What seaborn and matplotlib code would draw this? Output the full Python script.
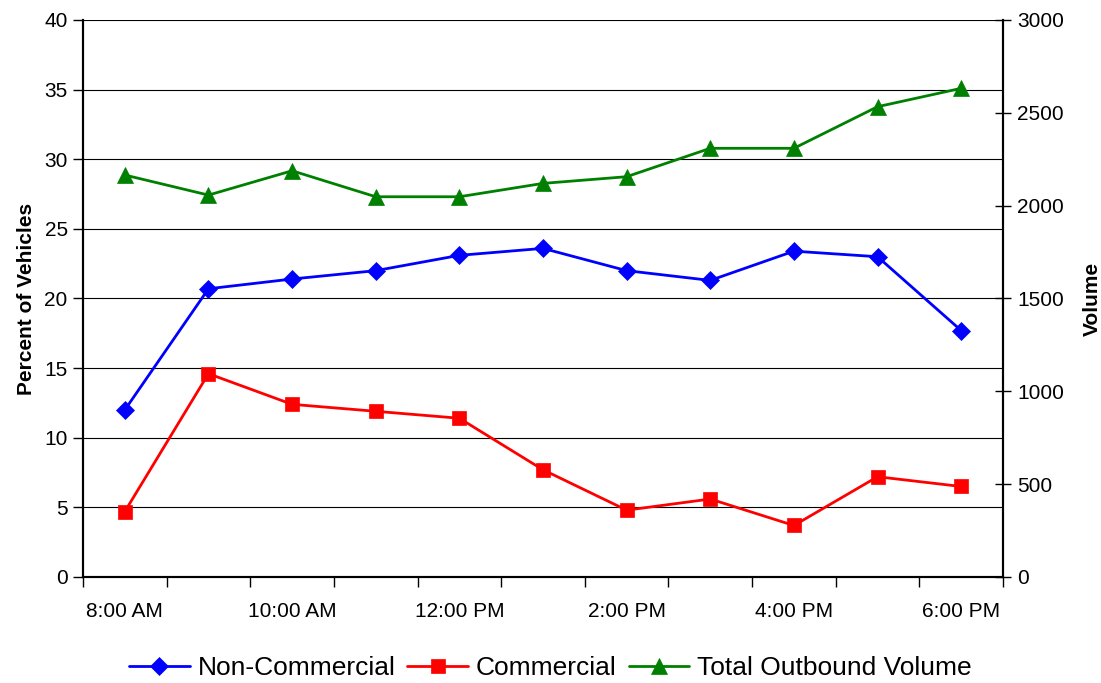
import matplotlib
matplotlib.use("Agg")
import matplotlib.pyplot as plt
import numpy as np
import pandas as pd
import seaborn as sns

# Hourly observations, 8:00 AM through 6:00 PM
hours = ["8:00 AM", "9:00 AM", "10:00 AM", "11:00 AM", "12:00 PM", "1:00 PM",
         "2:00 PM", "3:00 PM", "4:00 PM", "5:00 PM", "6:00 PM"]
non_commercial = [12.0, 20.7, 21.4, 22.0, 23.1, 23.6, 22.0, 21.3, 23.4, 23.0, 17.7]
commercial = [4.7, 14.6, 12.4, 11.9, 11.4, 7.7, 4.8, 5.6, 3.7, 7.2, 6.5]
total_volume = [2165, 2057, 2188, 2048, 2048, 2120, 2156, 2309, 2309, 2533, 2632]

left_ticks = [0, 5, 10, 15, 20, 25, 30, 35, 40]
right_ticks = [0, 500, 1000, 1500, 2000, 2500, 3000]

sns.set_style("white")
plt.rcParams["font.family"] = ["Liberation Sans", "DejaVu Sans"]
for key in ("text.color", "axes.labelcolor", "xtick.color", "ytick.color",
            "xtick.labelcolor", "ytick.labelcolor"):
    plt.rcParams[key] = "black"

df = pd.DataFrame({
    "slot": np.arange(len(hours)),
    "hour": hours,
    "non_commercial": non_commercial,
    "commercial": commercial,
    "total_volume": total_volume,
})

fig = plt.figure(figsize=(11.01, 6.83), dpi=100)
ax = fig.add_axes([83 / 1101, 106 / 683, 920 / 1101, 557 / 683])
ax2 = ax.twinx()

line_kw = dict(linewidth=2.0, markeredgewidth=0.5)
sns.lineplot(data=df, x="slot", y="non_commercial", ax=ax, color="#0000FF",
             marker="D", markersize=9.5, markeredgecolor="#0000FF",
             label="Non-Commercial", legend=False, **line_kw)
sns.lineplot(data=df, x="slot", y="commercial", ax=ax, color="#FF0000",
             marker="s", markersize=10.5, markeredgecolor="#FF0000",
             label="Commercial", legend=False, **line_kw)
sns.lineplot(data=df, x="slot", y="total_volume", ax=ax2, color="#008000",
             marker="^", markersize=11.5, markeredgecolor="#008000",
             label="Total Outbound Volume", legend=False, **line_kw)

# Left axis: percent with horizontal gridlines
ax.set_ylim(0, 40)
ax.set_yticks(left_ticks)
ax.set_yticklabels([str(t) for t in left_ticks], fontsize=15)
ax.yaxis.grid(True, color="black", linewidth=0.8)
ax.xaxis.grid(False)
ax.set_axisbelow(True)
ax.set_ylabel("Percent of Vehicles", fontsize=15, fontweight="bold", labelpad=6)

# Right axis: volume
ax2.set_ylim(0, 3000)
ax2.set_yticks(right_ticks)
ax2.set_yticklabels([str(t) for t in right_ticks], fontsize=15)
ax2.grid(False)
ax2.set_ylabel("Volume", fontsize=15, fontweight="bold", labelpad=14)

# Category axis: tick marks on slot boundaries, labels every second hour
n = len(hours)
ax.set_xlim(-0.5, n - 0.5)
ax.set_xticks(np.arange(n + 1) - 0.5)
ax.set_xticklabels([])
ax.set_xticks(np.arange(0, n, 2), minor=True)
ax.set_xticklabels(hours[::2], minor=True, fontsize=15)
ax.set_xlabel("")

ax.tick_params(axis="x", which="major", direction="out", length=7, width=1, color="black", bottom=True)
ax.tick_params(axis="x", which="minor", length=0, pad=18)
ax.tick_params(axis="y", direction="out", length=7, width=1, color="black", left=True, pad=4)
ax2.tick_params(axis="y", direction="inout", length=12, width=1, color="black", right=True, pad=4)

for a in (ax, ax2):
    a.spines["top"].set_visible(False)
    for side in ("left", "right", "bottom"):
        a.spines[side].set_color("black")
        a.spines[side].set_linewidth(1.5)

handles, labels = [], []
for a in (ax, ax2):
    h, l = a.get_legend_handles_labels()
    handles += h
    labels += l
fig.legend(handles, labels, loc="center", bbox_to_anchor=(0.5, 15 / 683),
           ncol=3, frameon=False, fontsize=19, handlelength=2.3, handletextpad=0.3,
           columnspacing=0.45)

fig.savefig("out.png", dpi=100)
